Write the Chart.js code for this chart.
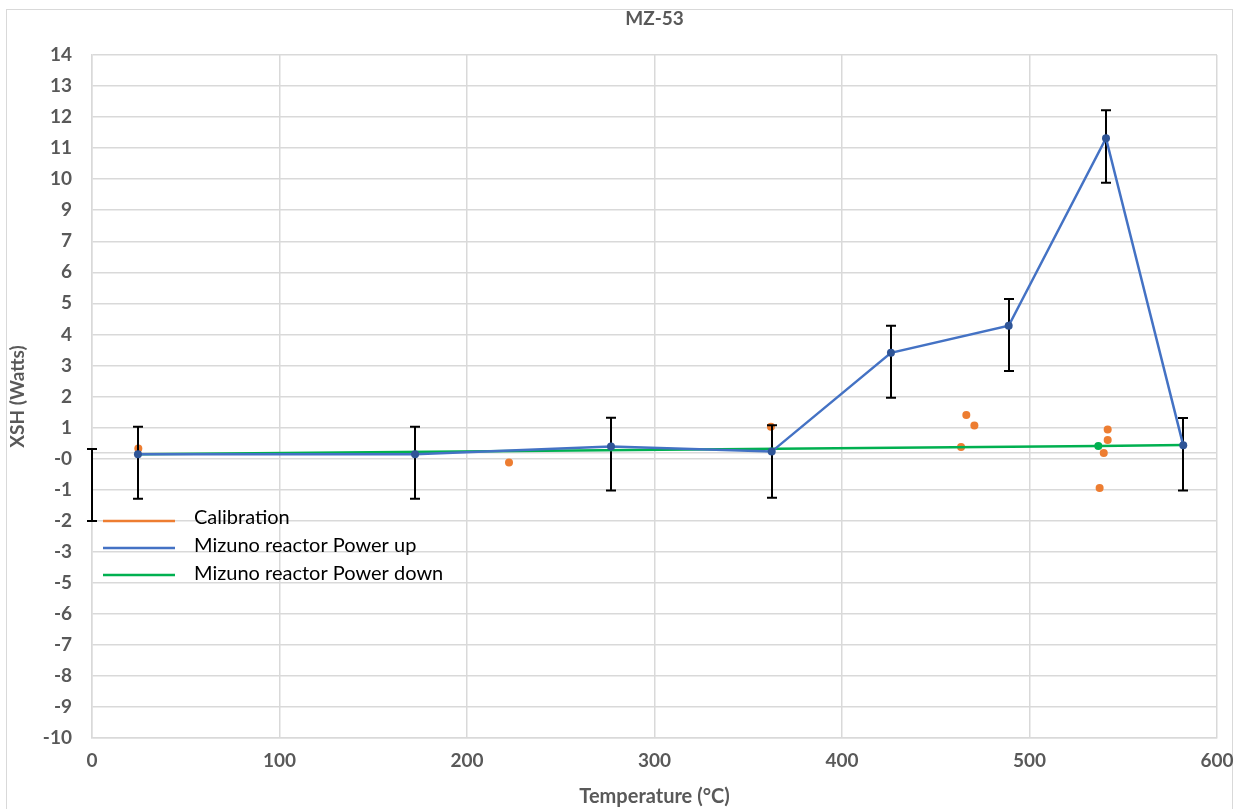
<!DOCTYPE html>
<html>
<head>
<meta charset="utf-8">
<script src="https://cdn.jsdelivr.net/npm/chart.js@4.4.0/dist/chart.umd.min.js"></script>
<style>
  body { margin: 0; background: #fff; }
  canvas { display: block; }
</style>
</head>
<body>
<canvas id="myChart" width="1245" height="809"></canvas>
<script>
// data
var chartTitle = 'MZ-53';
var seriesNames = ['Calibration', 'Mizuno reactor Power up', 'Mizuno reactor Power down'];

var calTemp = [24.7, 222.4, 362.1, 463.5, 466.3, 470.6, 537.4, 539.6, 541.7, 541.7];
var calXsh  = [0.15, -0.34, 0.91, 0.20, 1.33, 0.96, -1.24, -0.01, 0.45, 0.82];

var upTemp = [24.5, 172.3, 276.8, 362.5, 426.1, 488.9, 540.8, 582.0];
var upXsh  = [-0.05, -0.05, 0.22, 0.04, 3.51, 4.46, 11.05, 0.26];

var downTemp = [24.5, 536.7, 582.0];
var downXsh  = [-0.05, 0.24, 0.27];

// error bars (one lone bar sits on the y axis)
var errTemp = [0, 24.5, 172.3, 276.8, 362.5, 426.1, 488.9, 540.8, 582.0];
var errHigh = [0.13, 0.91, 0.91, 1.23, 0.97, 4.46, 5.40, 12.03, 1.22];
var errLow  = [-2.40, -1.62, -1.62, -1.33, -1.58, 1.93, 2.87, 9.48, -1.33];

// excel's odd value axis: 22 steps of ~1.09 shown as rounded integers
var yTickStart = -10.02;
var yTickStep = 1.0905;
var yTickCount = 22;
var xTicks = [0, 100, 200, 300, 400, 500, 600];

var colors = ['#ED7D31', '#4472C4', '#00B050'];
var gridColor = '#d9d9d9';
var labelColor = '#595959';
var fontFam = 'Lato, "Open Sans", sans-serif';

function pts(xs, ys) {
  var out = [];
  for (var i = 0; i < xs.length; i++) out.push({x: xs[i], y: ys[i]});
  return out;
}

var extras = {
  id: 'extras',
  beforeDraw: function(chart) {
    var c = chart.ctx;
    c.save();
    c.fillStyle = '#fff';
    c.fillRect(0, 0, chart.width, chart.height);
    c.strokeStyle = '#d9d9d9';
    c.lineWidth = 1;
    c.strokeRect(6.5, 9.5, 1226, 820);
    c.restore();
  },
  afterDatasetDraw: function(chart, args) {
    if (args.index !== 0) return;
    var c = chart.ctx, xs = chart.scales.x, ys = chart.scales.y;
    c.save();
    c.strokeStyle = '#000';
    c.lineWidth = 2;
    for (var i = 0; i < errTemp.length; i++) {
      var px = Math.round(xs.getPixelForValue(errTemp[i]));
      var top = ys.getPixelForValue(errHigh[i]);
      var bot = ys.getPixelForValue(errLow[i]);
      c.beginPath();
      c.moveTo(px, top); c.lineTo(px, bot);
      c.moveTo(px - 5, top); c.lineTo(px + 5, top);
      c.moveTo(px - 5, bot); c.lineTo(px + 5, bot);
      c.stroke();
    }
    c.restore();
  },
  afterDraw: function(chart) {
    var c = chart.ctx, a = chart.chartArea;
    c.save();
    // title
    c.fillStyle = labelColor;
    c.font = 'bold 19px ' + fontFam;
    c.textAlign = 'center';
    c.textBaseline = 'middle';
    c.fillText(chartTitle, (a.left + a.right) / 2, 19);
    // legend inside plot
    c.font = '20px ' + fontFam;
    c.textAlign = 'left';
    c.fillStyle = '#000';
    for (var i = 0; i < seriesNames.length; i++) {
      var y = 521 + i * 27;
      c.strokeStyle = colors[i];
      c.lineWidth = 2.5;
      c.beginPath();
      c.moveTo(103, y); c.lineTo(175, y);
      c.stroke();
      c.fillText(seriesNames[i], 194, y - 3 + i);
    }
    c.restore();
  }
};

var ctx = document.getElementById('myChart');
var myChart = new Chart(ctx, {
  type: 'scatter',
  data: {
    datasets: [{
      label: seriesNames[0],
      data: pts(calTemp, calXsh),
      showLine: false,
      pointRadius: 4,
      pointBorderWidth: 0,
      pointBackgroundColor: colors[0],
      order: 3
    }, {
      label: seriesNames[1],
      data: pts(upTemp, upXsh),
      showLine: true,
      borderColor: colors[1],
      borderWidth: 2.5,
      pointRadius: 4,
      pointBorderWidth: 0,
      pointBackgroundColor: '#2F5597',
      order: 1
    }, {
      label: seriesNames[2],
      data: pts(downTemp, downXsh),
      showLine: true,
      borderColor: colors[2],
      borderWidth: 2.5,
      pointRadius: [0, 4, 0],
      pointBorderWidth: 0,
      pointBackgroundColor: colors[2],
      order: 2
    }]
  },
  options: {
    responsive: false,
    animation: false,
    layout: { padding: { left: 0, right: 28, top: 55, bottom: 0 } },
    plugins: {
      legend: { display: false },
      title: { display: false },
      tooltip: { enabled: false }
    },
    scales: {
      x: {
        type: 'linear',
        min: xTicks[0],
        max: xTicks[xTicks.length - 1],
        afterBuildTicks: function(axis) {
          axis.ticks = xTicks.map(function(v) { return {value: v}; });
        },
        afterFit: function(axis) { axis.height = 71; },
        grid: { color: gridColor, lineWidth: 1.5, drawTicks: false },
        border: { color: gridColor, width: 1.5 },
        ticks: {
          padding: 11,
          color: labelColor,
          font: { family: fontFam, size: 19, weight: 'bold' }
        },
        title: {
          display: true,
          text: 'Temperature (°C)',
          color: labelColor,
          font: { family: fontFam, size: 20, weight: 'bold' },
          padding: { top: 0, bottom: 0 }
        }
      },
      y: {
        type: 'linear',
        min: yTickStart,
        max: yTickStart + yTickCount * yTickStep,
        afterBuildTicks: function(axis) {
          var t = [];
          for (var k = 0; k <= yTickCount; k++) t.push({value: yTickStart + k * yTickStep});
          t.push({value: 0});
          t.sort(function(a, b) { return a.value - b.value; });
          axis.ticks = t;
        },
        afterFit: function(axis) { axis.width = 92; },
        grid: { color: gridColor, lineWidth: 1.5, drawTicks: false },
        border: { color: gridColor, width: 1.5 },
        ticks: {
          autoSkip: false,
          padding: 20,
          color: labelColor,
          font: { family: fontFam, size: 19, weight: 'bold' },
          callback: function(value) {
            if (value === 0) return '';
            return (value < 0 ? '-' : '') + Math.round(Math.abs(value));
          }
        },
        title: {
          display: true,
          text: 'XSH (Watts)',
          color: labelColor,
          font: { family: fontFam, size: 19, weight: 'bold' },
          padding: { top: 6, bottom: 0 }
        }
      }
    }
  },
  plugins: [extras]
});
</script>
</body>
</html>
